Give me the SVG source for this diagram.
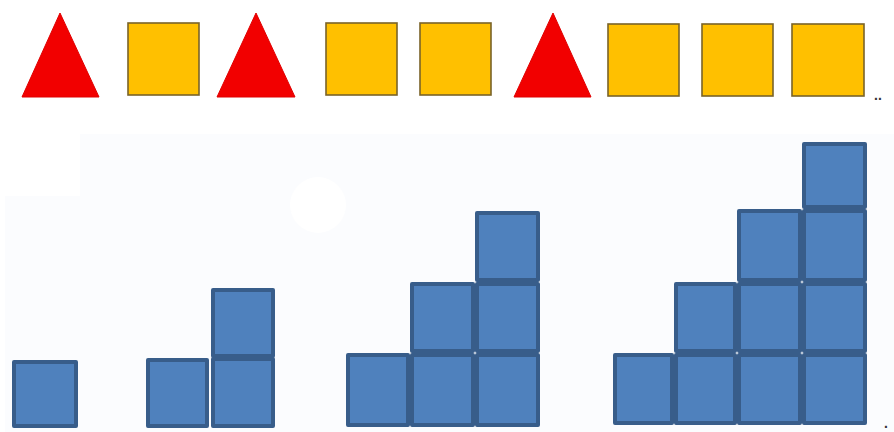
<svg xmlns="http://www.w3.org/2000/svg" width="894" height="432" viewBox="0 0 894 432">
<style>
.tri{fill:#F20000;stroke:#E00000;stroke-width:1}
.sq{fill:#FFC000;stroke:#7A6328;stroke-width:1.6}
.cell{fill:#4F81BD;stroke:#385D8A;stroke-width:4;stroke-linejoin:round}
.dots{font-family:"Liberation Sans",Arial,sans-serif;font-size:14px;font-weight:bold;fill:#333}
</style>
<rect x="0" y="0" width="894" height="432" fill="#FFFFFF"/>
<path d="M80 134 H894 V432 H5 V196 H80 Z" fill="#FBFCFE"/>
<circle cx="318" cy="205" r="28" fill="#FFFFFF"/>
<g id="top-row">
<g id="t1"><polygon class="tri" points="60,13 99,97 22,97"/></g>
<g id="s1"><rect class="sq" x="128" y="23" width="71" height="72"/></g>
<g id="t2"><polygon class="tri" points="256,13 295,97 217,97"/></g>
<g id="s2"><rect class="sq" x="326" y="23" width="71" height="72"/></g>
<g id="s3"><rect class="sq" x="420" y="23" width="71" height="72"/></g>
<g id="t3"><polygon class="tri" points="553,13 591,97 514,97"/></g>
<g id="s4"><rect class="sq" x="608" y="24" width="71" height="72"/></g>
<g id="s5"><rect class="sq" x="702" y="24" width="71" height="72"/></g>
<g id="s6"><rect class="sq" x="792" y="24" width="72" height="72"/></g>
<text class="dots" x="874" y="100">..</text>
</g>
<g id="fig1">
<rect class="cell" x="14" y="362" width="62" height="64"/>
</g>
<g id="fig2">
<rect class="cell" x="148" y="360" width="59" height="66"/>
<rect class="cell" x="213" y="290" width="60" height="66"/>
<rect class="cell" x="213" y="359" width="60" height="67"/>
</g>
<g id="fig3">
<rect class="cell" x="348" y="355" width="60" height="70"/>
<rect class="cell" x="412" y="284" width="61" height="67"/>
<rect class="cell" x="412" y="355" width="61" height="70"/>
<rect class="cell" x="477" y="213" width="61" height="67"/>
<rect class="cell" x="477" y="284" width="61" height="67"/>
<rect class="cell" x="477" y="355" width="61" height="70"/>
</g>
<g id="fig4">
<rect class="cell" x="615" y="355" width="57" height="68"/>
<rect class="cell" x="676" y="284" width="59" height="67"/>
<rect class="cell" x="676" y="355" width="59" height="68"/>
<rect class="cell" x="739" y="211" width="61" height="69"/>
<rect class="cell" x="739" y="284" width="61" height="67"/>
<rect class="cell" x="739" y="355" width="61" height="68"/>
<rect class="cell" x="804" y="144" width="61" height="63"/>
<rect class="cell" x="804" y="211" width="61" height="69"/>
<rect class="cell" x="804" y="284" width="61" height="67"/>
<rect class="cell" x="804" y="355" width="61" height="68"/>
</g>
<text class="dots" x="884" y="428">.</text>
<g id="connectors"/>
</svg>
